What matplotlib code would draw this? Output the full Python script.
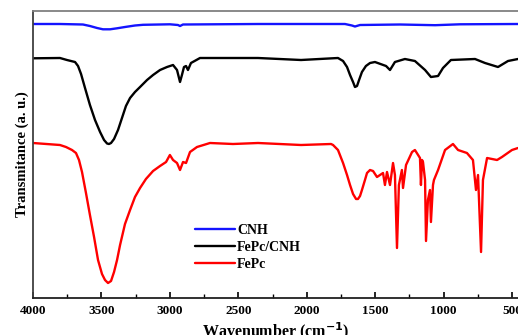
import matplotlib
matplotlib.use("Agg")
import matplotlib.pyplot as plt
from matplotlib.ticker import MultipleLocator

# FT-IR spectra (wavenumber in cm^-1, transmittance in offset arbitrary units)
cnh_wn = [4000, 3803, 3635, 3584, 3532, 3489, 3437, 3386, 3328, 3255, 3196,
          3000, 2941, 2926, 2904, 2356, 1721, 1670, 1648, 1611, 1319, 1063,
          881, 457]
cnh_t = [274, 274, 273.5, 272, 270, 268.7, 268.7, 269.7, 271, 272.5, 273.2,
         273.7, 273, 272, 273.5, 274, 274, 272.5, 271.5, 273, 273.5, 272.8,
         273.7, 274]

fepc_cnh_wn = [4000, 3803, 3752, 3693, 3671, 3649, 3620, 3584, 3547, 3510,
               3481, 3459, 3445, 3430, 3408, 3379, 3350, 3321, 3291, 3255,
               3218, 3167, 3123, 3072, 3021, 2977, 2948, 2926, 2912, 2897,
               2882, 2868, 2846, 2780, 2356, 2042, 1772, 1735, 1706, 1684,
               1662, 1648, 1633, 1618, 1597, 1568, 1538, 1502, 1421, 1392,
               1356, 1283, 1210, 1136, 1093, 1041, 1005, 947, 771, 698,
               603, 530, 457]
fepc_cnh_t = [239.7, 240, 238, 236, 232, 224, 210, 193, 178, 166,
              158, 154.5, 154, 155, 159, 168, 180, 192, 200, 206,
              211, 218, 223, 228, 231, 233, 228, 216, 223, 231,
              232, 228, 235, 240, 240, 238, 240, 237, 231, 223,
              216, 211, 212, 218, 226, 232, 235, 236, 232, 228,
              236, 239, 237, 228, 221, 222, 230, 238, 239, 235,
              231, 237, 239]

fepc_wn = [4000, 3803, 3759, 3715, 3686, 3664, 3642, 3613, 3584, 3554,
           3525, 3496, 3474, 3452, 3430, 3408, 3386, 3364, 3328, 3291,
           3255, 3218, 3175, 3123, 3072, 3028, 3000, 2977, 2948, 2926,
           2904, 2882, 2853, 2802, 2707, 2539, 2356, 2042, 1823, 1808,
           1772, 1735, 1706, 1684, 1662, 1640, 1626, 1611, 1597, 1575,
           1560, 1538, 1516, 1487, 1443, 1429, 1414, 1392, 1370, 1356,
           1341, 1327, 1305, 1297, 1275, 1231, 1210, 1173, 1166, 1158,
           1151, 1136, 1129, 1115, 1100, 1093, 1078, 1071, 1041, 990,
           932, 895, 830, 786, 764, 749, 727, 713, 683, 610,
           574, 501, 457]
fepc_t = [155, 153, 151, 148, 145, 138, 126, 105, 83, 61,
          38, 24, 18, 15, 17, 26, 38, 53, 74, 88,
          101, 110, 119, 127, 132, 136, 143, 138, 135, 128,
          136, 135, 146, 151, 155, 154, 155, 153, 154, 153,
          148, 135, 123, 113, 104, 99, 99, 102, 108, 118,
          125, 128, 127, 121, 125, 113, 126, 113, 135, 123,
          50, 113, 128, 110, 133, 146, 148, 140, 113, 138,
          136, 118, 57, 98, 108, 76, 113, 118, 128, 148,
          154, 148, 145, 138, 108, 123, 46, 118, 140, 138,
          141, 148, 150]

series = [
    ("CNH", cnh_wn, cnh_t, "#1414ff"),
    ("FePc/CNH", fepc_cnh_wn, fepc_cnh_t, "#000000"),
    ("FePc", fepc_wn, fepc_t, "#ff0000"),
]

serif = ["Liberation Serif", "DejaVu Serif"]
plt.rcParams["font.family"] = serif
plt.rcParams["font.weight"] = "bold"

fig = plt.figure(figsize=(5.18, 3.35), dpi=100)
ax = fig.add_axes([33 / 518, 1 - 298 / 335, 1 - 33 / 518, (298 - 11) / 335])

for name, wn, t, color in series:
    ax.plot(wn, t, color=color, lw=1.7, label=name,
            solid_joinstyle="round", solid_capstyle="round")

ax.set_xlim(4000, 457)
ax.set_ylim(0, 287)
ax.xaxis.set_major_locator(MultipleLocator(500))
ax.xaxis.set_minor_locator(MultipleLocator(250))
ax.set_yticks([])
ax.tick_params(axis="x", which="major", direction="in", length=4, width=1.2,
               labelsize=9.5, pad=5, top=False)
ax.tick_params(axis="x", which="minor", direction="in", length=3, width=1.0,
               top=False)
for lab in ax.get_xticklabels():
    lab.set_fontweight("bold")

ax.spines["right"].set_visible(False)
ax.spines["top"].set_color("#808080")
ax.spines["left"].set_color("#404040")
ax.spines["bottom"].set_color("#202020")
for s in ax.spines.values():
    s.set_linewidth(1.3)

ax.set_xlabel("Wavenumber (cm$^{\\mathbf{-1}}$)", fontsize=11.5, fontweight="bold",
              labelpad=2)
ax.set_ylabel("Transmitance (a. u.)", fontsize=10.5, fontweight="bold", labelpad=3)

leg = ax.legend(loc="upper left", bbox_to_anchor=(185 / 518, 1 - 214 / 335),
                bbox_transform=fig.transFigure, frameon=False,
                prop={"family": serif, "weight": "bold", "size": 10},
                handlelength=2.9, handletextpad=0.15, labelspacing=0.3,
                borderpad=0.2)

fig.savefig("out.png", dpi=100)
